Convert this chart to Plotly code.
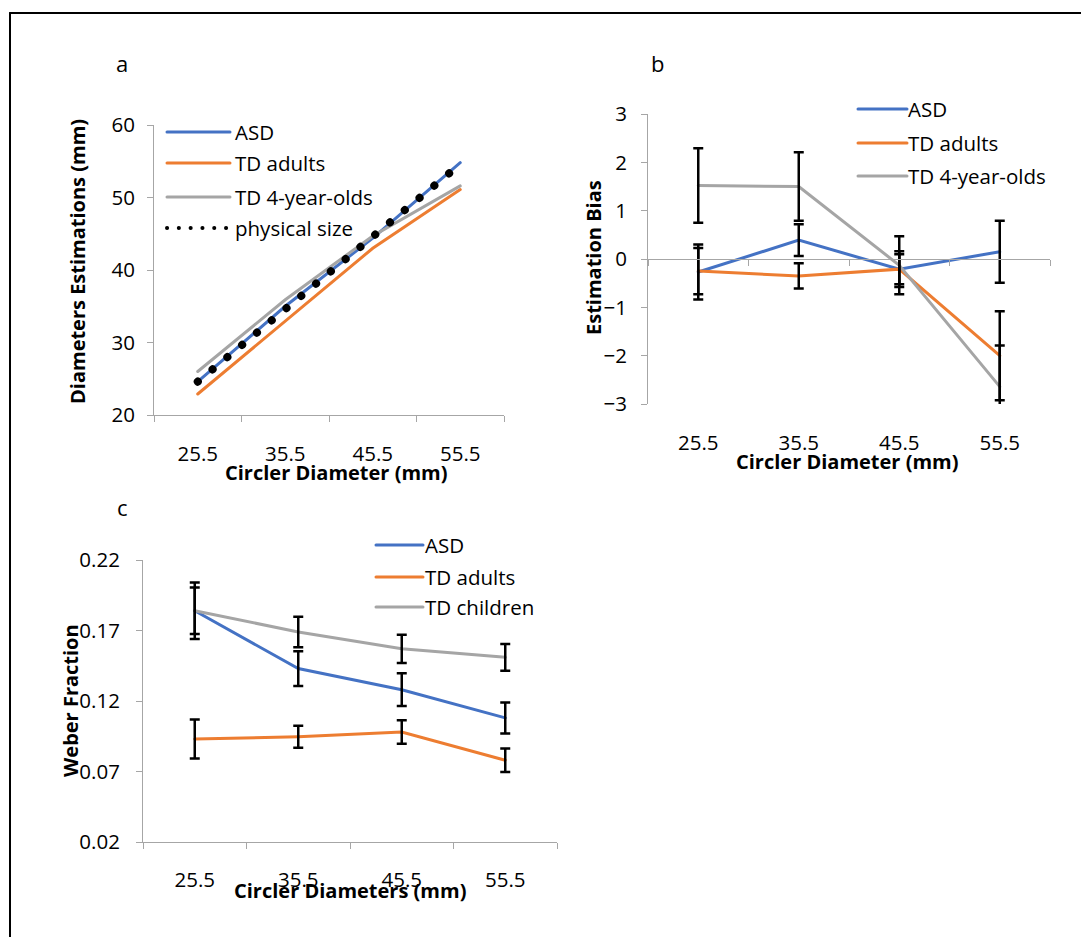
import plotly.graph_objects as go

W, H = 1081, 937

# ---------------- data ----------------
x_vals = [25.5, 35.5, 45.5, 55.5]
x_labels = ["25.5", "35.5", "45.5", "55.5"]
x_bounds = [20.5, 30.5, 40.5, 50.5, 60.5]

# panel a: diameter estimations (mm)
a_asd = [24.6, 35.0, 44.4, 54.8]
a_td_adults = [22.9, 32.9, 43.0, 51.1]
a_td_4yo = [26.0, 35.9, 44.7, 51.6]
a_physical = [24.6, 34.6, 44.6, 54.6]

# panel b: estimation bias
b_asd = [-0.27, 0.39, -0.21, 0.15]
b_asd_err = [0.57, 0.33, 0.37, 0.64]
b_td_adults = [-0.25, -0.35, -0.21, -2.0]
b_td_adults_err = [0.48, 0.26, 0.31, 0.92]
b_td_4yo = [1.52, 1.50, -0.13, -2.64]
b_td_4yo_err = [0.77, 0.71, 0.60, 0.85]

# panel c: Weber fraction
c_asd = [0.184, 0.143, 0.128, 0.108]
c_asd_err = [0.0165, 0.0123, 0.0116, 0.011]
c_td_adults = [0.093, 0.0947, 0.098, 0.078]
c_td_adults_err = [0.0138, 0.0078, 0.0084, 0.0084]
c_td_children = [0.184, 0.169, 0.157, 0.151]
c_td_children_err = [0.020, 0.0108, 0.010, 0.0095]

BLUE = "#4472C4"
ORANGE = "#ED7D31"
GRAY = "#A5A5A5"
AXIS = "#A6A6A6"
FONT = "Open Sans"
TICK_SIZE = 20.5
LEG_SIZE = 20.5
TITLE_SIZE = 20


def px(x):
    return x / W


def py(y):
    return 1 - y / H


fig = go.Figure()


def add_line(x, y, color, xa, ya, name, dash=None, width=3):
    fig.add_trace(go.Scatter(
        x=x, y=y, mode="lines", name=name, showlegend=False,
        line=dict(color=color, width=width, dash=dash),
        xaxis=xa, yaxis=ya, hoverinfo="skip"))


def add_err(x, y, err, xa, ya):
    fig.add_trace(go.Scatter(
        x=x, y=y, mode="markers", showlegend=False,
        marker=dict(size=1, opacity=0),
        error_y=dict(type="data", array=err, visible=True, color="black",
                     thickness=2.5, width=5),
        xaxis=xa, yaxis=ya, hoverinfo="skip"))


# panel a
add_line(x_vals, a_asd, BLUE, "x", "y", "ASD")
add_line(x_vals, a_td_adults, ORANGE, "x", "y", "TD adults")
add_line(x_vals, a_td_4yo, GRAY, "x", "y", "TD 4-year-olds")
add_line(x_vals, a_physical, "black", "x", "y", "physical size",
         dash="0.1px,19.1px", width=8)

# panel b
add_line(x_vals, b_asd, BLUE, "x2", "y2", "ASD")
add_line(x_vals, b_td_adults, ORANGE, "x2", "y2", "TD adults")
add_line(x_vals, b_td_4yo, GRAY, "x2", "y2", "TD 4-year-olds")
add_err(x_vals, b_asd, b_asd_err, "x2", "y2")
add_err(x_vals, b_td_adults, b_td_adults_err, "x2", "y2")
add_err(x_vals, b_td_4yo, b_td_4yo_err, "x2", "y2")

# panel c
add_line(x_vals, c_asd, BLUE, "x3", "y3", "ASD")
add_line(x_vals, c_td_adults, ORANGE, "x3", "y3", "TD adults")
add_line(x_vals, c_td_children, GRAY, "x3", "y3", "TD children")
add_err(x_vals, c_asd, c_asd_err, "x3", "y3")
add_err(x_vals, c_td_adults, c_td_adults_err, "x3", "y3")
add_err(x_vals, c_td_children, c_td_children_err, "x3", "y3")

tickfont = dict(family=FONT, size=TICK_SIZE, color="black")


def xaxis_cfg(dom, standoff, **kw):
    d = dict(domain=dom, range=[x_bounds[0], x_bounds[-1]],
             tickmode="array", tickvals=x_vals, ticktext=x_labels,
             ticks="", showline=True, linecolor=AXIS, linewidth=1,
             showgrid=False, zeroline=False, tickfont=tickfont,
             ticklabelstandoff=standoff, automargin=False,
             minor=dict(tickmode="array", tickvals=x_bounds, ticks="outside",
                        ticklen=6, tickcolor=AXIS, tickwidth=1, showgrid=False))
    d.update(kw)
    return d


def yaxis_cfg(dom, rng, dtick, standoff, anchor, fmt=None, tick0=None):
    d = dict(domain=dom, range=rng, dtick=dtick, ticks="outside", ticklen=6,
             tickcolor=AXIS, showline=True, linecolor=AXIS, linewidth=1,
             showgrid=False, zeroline=False, tickfont=tickfont,
             ticklabelstandoff=standoff, automargin=False, anchor=anchor)
    if fmt:
        d["tickformat"] = fmt
    if tick0 is not None:
        d["tick0"] = tick0
    return d


ya_dom = [py(415), py(125)]
yb_dom = [py(404), py(114)]
yc_dom = [py(842), py(560)]

fig.update_layout(
    template="none",
    width=W, height=H, margin=dict(l=0, r=0, t=0, b=0, pad=0),
    paper_bgcolor="white", plot_bgcolor="rgba(0,0,0,0)",
    showlegend=False,
    font=dict(family=FONT, color="black"),
    xaxis=xaxis_cfg([px(154), px(504)], 20, anchor="y"),
    yaxis=yaxis_cfg(ya_dom, [20, 60], 10, 8, "x"),
    xaxis2=xaxis_cfg([px(648), px(1050)], 165, anchor="free",
                     position=(yb_dom[0] + yb_dom[1]) / 2),
    yaxis2=yaxis_cfg(yb_dom, [-3, 3], 1, 10, "x2"),
    xaxis3=xaxis_cfg([px(143), px(557)], 19, anchor="y3"),
    yaxis3=yaxis_cfg(yc_dom, [0.02, 0.22], 0.05, 12, "x3", fmt=".2f", tick0=0.02),
)

annos = []


def text(x, y, s, size=TICK_SIZE, bold=False, angle=0, xanchor="center"):
    annos.append(dict(
        x=px(x), y=py(y), xref="paper", yref="paper", text=f"<b>{s}</b>" if bold else s,
        showarrow=False, textangle=angle, xanchor=xanchor, yanchor="middle",
        font=dict(family=FONT, size=size, color="black")))


# panel letters
text(122, 63, "a", size=22)
text(657, 63, "b", size=22)
text(122, 507, "c", size=22)

# axis titles
text(78, 262, "Diameters Estimations (mm)", size=TITLE_SIZE, bold=True, angle=-90)
text(336, 472, "Circler Diameter (mm)", size=TITLE_SIZE, bold=True)
text(593, 258, "Estimation Bias", size=TITLE_SIZE, bold=True, angle=-90)
text(847, 462, "Circler Diameter (mm)", size=TITLE_SIZE, bold=True)
text(70, 701, "Weber Fraction", size=TITLE_SIZE, bold=True, angle=-90)
text(350, 890, "Circler Diameters (mm)", size=TITLE_SIZE, bold=True)

shapes = []


def legend(x0, x1, xt, rows):
    for y, label, color, dash, width in rows:
        shapes.append(dict(type="line", xref="paper", yref="paper",
                           x0=px(x0), x1=px(x1), y0=py(y), y1=py(y),
                           line=dict(color=color, width=width, dash=dash)))
        text(xt, y, label, size=LEG_SIZE, xanchor="left")


legend(167, 230, 233, [
    (132, "ASD", BLUE, "solid", 3),
    (163, "TD adults", ORANGE, "solid", 3),
    (197, "TD 4-year-olds", GRAY, "solid", 3),
    (228, "physical size", "black", "0.1px,11.7px", 4),
])
legend(858, 907, 906, [
    (109, "ASD", BLUE, "solid", 3),
    (143, "TD adults", ORANGE, "solid", 3),
    (176, "TD 4-year-olds", GRAY, "solid", 3),
])
legend(376, 423, 423, [
    (545, "ASD", BLUE, "solid", 3),
    (577, "TD adults", ORANGE, "solid", 3),
    (607, "TD children", GRAY, "solid", 3),
])

# frame lines (top and left)
shapes.append(dict(type="line", xref="paper", yref="paper",
                   x0=px(10), x1=1, y0=py(13), y1=py(13),
                   line=dict(color="black", width=2)))
shapes.append(dict(type="line", xref="paper", yref="paper",
                   x0=px(10), x1=px(10), y0=py(13), y1=0,
                   line=dict(color="black", width=2)))

fig.update_layout(annotations=annos, shapes=shapes)

post = """
document.body.style.margin='0';
var st=document.createElement('style');
st.textContent='.js-line, .shapelayer path{stroke-linecap:round}';
document.head.appendChild(st);
"""
fig.write_html("out.html", post_script=post, config={"displayModeBar": False})
